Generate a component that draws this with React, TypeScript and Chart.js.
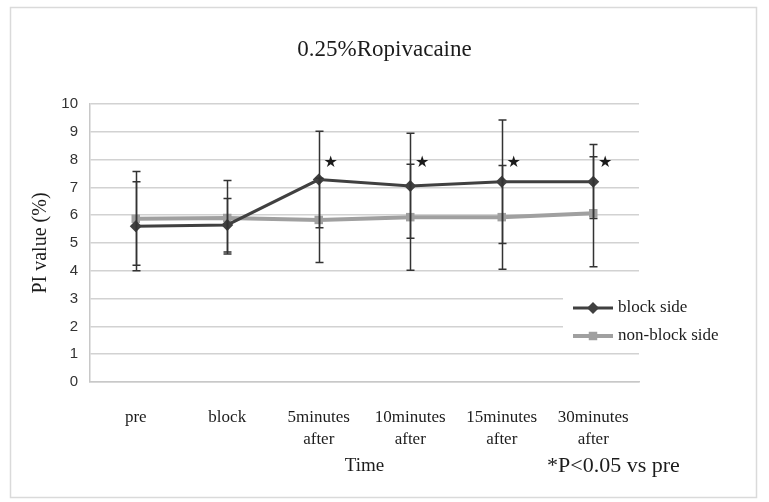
import React, { useEffect, useRef } from 'react';
import { Chart, registerables } from 'chart.js';

Chart.register(...registerables);

// ---------- data ----------
const titleText = '0.25%Ropivacaine';
const categories: (string | string[])[] = [
  'pre',
  'block',
  ['5minutes', 'after'],
  ['10minutes', 'after'],
  ['15minutes', 'after'],
  ['30minutes', 'after'],
];
const seriesNames = ['block side', 'non-block side'];
const blockSide = [5.6, 5.65, 7.28, 7.05, 7.2, 7.2];
const blockSideHigh = [7.2, 6.6, 9.02, 8.95, 9.42, 8.54];
const blockSideLow = [4.0, 4.68, 5.55, 5.17, 4.98, 5.88];
const nonBlockSide = [5.87, 5.9, 5.83, 5.93, 5.93, 6.07];
const nonBlockSideHigh = [7.57, 7.25, 7.33, 7.83, 7.79, 8.1];
const nonBlockSideLow = [4.2, 4.6, 4.3, 4.02, 4.06, 4.15];
const significant = [false, false, true, true, true, true];
const yTicks = [0, 1, 2, 3, 4, 5, 6, 7, 8, 9, 10];
const yTitle = 'PI value (%)';
const xTitle = 'Time';
const footnote = '*P<0.05 vs pre';
const starLevel = 7.9;

const SERIF = '"Liberation Serif", "Times New Roman", serif';
const SANS = '"Liberation Sans", Arial, sans-serif';

const BLOCK_COLOR = '#404040';
const NONBLOCK_COLOR = '#a0a0a0';
const TEXT_COLOR = '#1c1c1c';

function drawMarker(ctx: CanvasRenderingContext2D, style: string, x: number, y: number, r: number, color: string) {
  ctx.save();
  ctx.fillStyle = color;
  ctx.beginPath();
  if (style === 'rectRot') {
    ctx.moveTo(x, y - r);
    ctx.lineTo(x + r, y);
    ctx.lineTo(x, y + r);
    ctx.lineTo(x - r, y);
    ctx.closePath();
  } else {
    const s = r * Math.SQRT1_2;
    ctx.rect(x - s, y - s, 2 * s, 2 * s);
  }
  ctx.fill();
  ctx.restore();
}

const framePlugin = {
  id: 'frame',
  beforeDraw(chart: any) {
    const { ctx, width, height } = chart;
    ctx.save();
    ctx.fillStyle = '#ffffff';
    ctx.fillRect(0, 0, width, height);
    ctx.strokeStyle = '#dadada';
    ctx.lineWidth = 1.5;
    ctx.strokeRect(10.5, 7.5, 746, 490);
    // chart title, centred on the whole canvas
    ctx.fillStyle = TEXT_COLOR;
    ctx.font = `23px ${SERIF}`;
    ctx.textAlign = 'center';
    ctx.textBaseline = 'middle';
    ctx.fillText(titleText, width / 2, 50);
    ctx.restore();
  },
};

const errorBarPlugin = {
  id: 'errorBars',
  afterDatasetsDraw(chart: any, _args: any, opts: any) {
    const { ctx } = chart;
    const y = chart.scales.y;
    ctx.save();
    ctx.strokeStyle = opts.color;
    ctx.lineWidth = opts.width;
    (opts.series as { high: number[]; low: number[] }[]).forEach((s, di) => {
      const meta = chart.getDatasetMeta(di);
      meta.data.forEach((pt: any, i: number) => {
        const x = Math.round(pt.x) + 0.5;
        const yh = y.getPixelForValue(s.high[i]);
        const yl = y.getPixelForValue(s.low[i]);
        ctx.beginPath();
        ctx.moveTo(x, yh);
        ctx.lineTo(x, yl);
        ctx.moveTo(x - opts.cap, yh);
        ctx.lineTo(x + opts.cap, yh);
        ctx.moveTo(x - opts.cap, yl);
        ctx.lineTo(x + opts.cap, yl);
        ctx.stroke();
      });
    });
    ctx.restore();
  },
};

const annotationPlugin = {
  id: 'annotations',
  afterDraw(chart: any) {
    const { ctx } = chart;
    const y = chart.scales.y;
    const meta = chart.getDatasetMeta(0);
    ctx.save();
    // significance stars
    ctx.fillStyle = '#1a1a1a';
    ctx.font = '16px "DejaVu Sans", sans-serif';
    ctx.textAlign = 'center';
    ctx.textBaseline = 'middle';
    significant.forEach((sig, i) => {
      if (!sig) return;
      const pt = meta.data[i];
      ctx.fillText('\u2605', pt.x + 12, y.getPixelForValue(starLevel));
    });

    // legend
    const lx = 573;
    const ly = 308;
    const gap = 28;
    ctx.fillStyle = '#ffffff';
    ctx.fillRect(563, 289, 172, 60);
    chart.data.datasets.forEach((ds: any, i: number) => {
      const yy = ly + i * gap;
      ctx.strokeStyle = ds.borderColor;
      ctx.lineWidth = ds.borderWidth;
      ctx.beginPath();
      ctx.moveTo(lx, yy);
      ctx.lineTo(lx + 40, yy);
      ctx.stroke();
      drawMarker(ctx, ds.pointStyle, lx + 20, yy, ds.pointRadius, ds.pointBackgroundColor);
      ctx.fillStyle = TEXT_COLOR;
      ctx.font = `17px ${SERIF}`;
      ctx.textAlign = 'left';
      ctx.textBaseline = 'middle';
      ctx.fillText(ds.label, lx + 45, yy);
    });

    // footnote
    ctx.fillStyle = TEXT_COLOR;
    ctx.font = `22px ${SERIF}`;
    ctx.textAlign = 'left';
    ctx.textBaseline = 'middle';
    ctx.fillText(footnote, 547, 466);
    ctx.restore();
  },
};

export default function App() {
  const canvasRef = useRef<HTMLCanvasElement | null>(null);

  useEffect(() => {
    document.body.style.margin = '0';
    const canvas = canvasRef.current;
    if (!canvas) return;
    const chart = new Chart(canvas, {
      type: 'line',
      data: {
        labels: categories,
        datasets: [
          {
            label: seriesNames[0],
            data: blockSide,
            borderColor: BLOCK_COLOR,
            borderWidth: 3,
            pointStyle: 'rectRot',
            pointRadius: 6,
            pointBackgroundColor: BLOCK_COLOR,
            pointBorderWidth: 0,
            pointBorderColor: BLOCK_COLOR,
            tension: 0,
          },
          {
            label: seriesNames[1],
            data: nonBlockSide,
            borderColor: NONBLOCK_COLOR,
            borderWidth: 4,
            pointStyle: 'rect',
            pointRadius: 6,
            pointBackgroundColor: NONBLOCK_COLOR,
            pointBorderWidth: 0,
            pointBorderColor: NONBLOCK_COLOR,
            tension: 0,
          },
        ],
      },
      options: {
        responsive: false,
        animation: false,
        events: [],
        layout: { padding: { left: 0, right: 130, top: 104, bottom: 0 } },
        plugins: {
          legend: { display: false },
          tooltip: { enabled: false },
          title: { display: false },
          errorBars: {
            color: '#333333',
            width: 1.5,
            cap: 4,
            series: [
              { high: blockSideHigh, low: blockSideLow },
              { high: nonBlockSideHigh, low: nonBlockSideLow },
            ],
          },
        } as any,
        scales: {
          x: {
            type: 'category',
            offset: true,
            grid: { display: false },
            border: { display: true, color: '#c8c8c8', width: 1.5 },
            ticks: {
              color: TEXT_COLOR,
              font: { family: SERIF, size: 17, lineHeight: 22 / 17 },
              padding: 17,
              maxRotation: 0,
              autoSkip: false,
            },
            title: {
              display: true,
              text: xTitle,
              color: TEXT_COLOR,
              font: { family: SERIF, size: 19 },
              padding: { top: 0, bottom: 24.6 },
            },
            afterFit(scale: any) {
              scale.height = 120;
            },
          },
          y: {
            min: yTicks[0],
            max: yTicks[yTicks.length - 1],
            ticks: {
              stepSize: 1,
              color: '#333333',
              font: { family: SANS, size: 15 },
              padding: 12,
            },
            grid: { color: '#d2d2d2', lineWidth: 1.5, drawTicks: false },
            border: { display: true, color: '#c8c8c8', width: 1.5 },
            title: {
              display: true,
              text: yTitle,
              color: TEXT_COLOR,
              font: { family: SERIF, size: 20 },
              padding: { top: 29, bottom: 0 },
            },
            afterFit(scale: any) {
              scale.width = 90;
            },
          },
        },
      },
      plugins: [framePlugin, errorBarPlugin, annotationPlugin],
    } as any);
    return () => chart.destroy();
  }, []);

  return (
    <div style={{ width: 769, height: 502 }}>
      <canvas ref={canvasRef} width={769} height={502} style={{ display: 'block' }} />
    </div>
  );
}
